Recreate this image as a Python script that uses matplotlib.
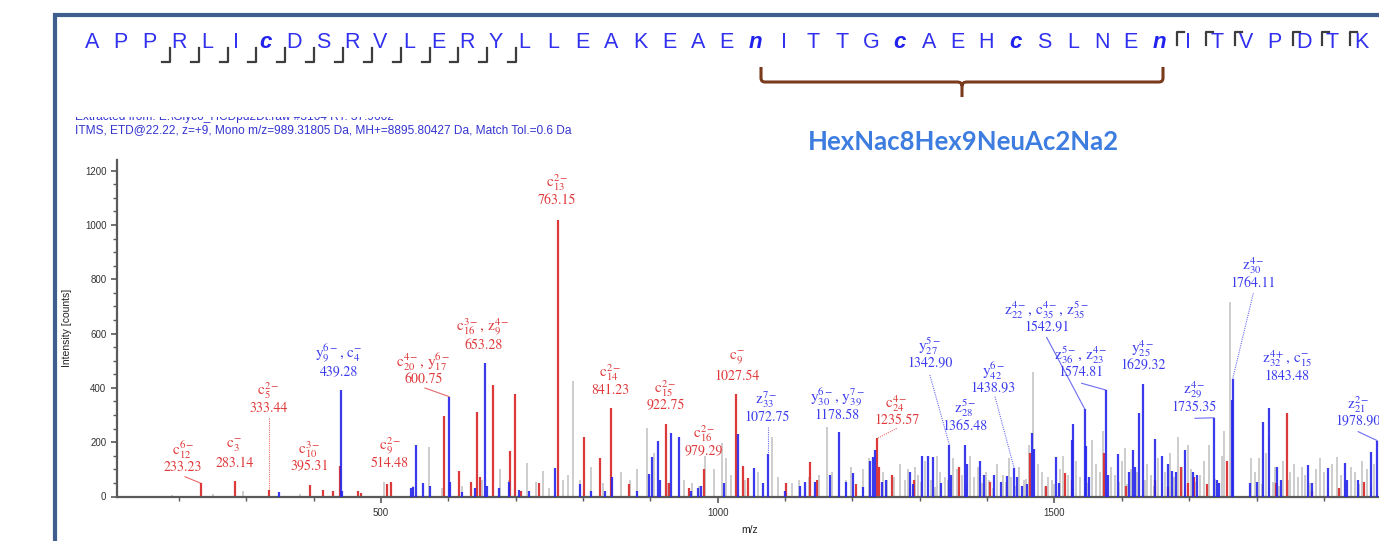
import numpy as np
import matplotlib
matplotlib.use("Agg")
import matplotlib.pyplot as plt
from matplotlib.lines import Line2D
from matplotlib.patches import PathPatch, Rectangle
from matplotlib.path import Path

plt.rcParams['mathtext.fontset'] = 'stix'
plt.rcParams['font.family'] = ['Liberation Sans', 'DejaVu Sans']

# ---- data (m/z, intensity [counts]) ----
red_mz = [233.2, 283.1, 333.4, 395.3, 414, 429, 439.3, 466, 471, 509, 514.5, 593.5,
          616, 633, 642, 647, 666, 691.5, 699, 708, 735, 763.15, 802, 825.6, 841.2,
          868, 922.75, 927, 957, 979.3, 1027.5, 1037, 1045, 1102, 1137, 1148, 1206,
          1237, 1240, 1259, 1291, 1358.7, 1404, 1463.6, 1488, 1515.6, 1526, 1573.5,
          1606, 1649, 1668, 1688, 1699, 1707, 1727, 1755.7, 1829, 1845, 1883, 1922, 1960]
red_int = [48, 57, 24, 43, 24, 20, 112, 22, 12, 46, 53, 296,
           95, 55, 310, 70, 411, 169, 376, 20, 50, 1020, 219, 142, 327,
           45, 267, 50, 30, 100, 379, 113, 68, 48, 128, 60, 45,
           214, 110, 80, 60, 110, 55, 160, 40, 88, 60, 160,
           40, 60, 35, 110, 50, 70, 45, 130, 50, 309, 20, 30, 55]

blue_mz = [348, 440, 441.5, 544, 548, 552, 563, 573, 601, 602, 620, 640, 654.4, 657,
           675, 690, 705, 720, 758, 795, 812, 832, 843, 880, 898, 902, 912, 914, 930,
           942, 960, 970, 975, 1010, 1030.5, 1054, 1067, 1074, 1100, 1122, 1129, 1145,
           1166, 1180.5, 1190, 1201, 1215, 1226, 1231, 1234, 1244, 1250, 1285.5, 1290,
           1304, 1312, 1320, 1332, 1344, 1347, 1367, 1370, 1389, 1395, 1410, 1420, 1430,
           1440, 1445, 1452, 1459, 1466, 1470, 1502, 1506, 1525.5, 1528, 1545, 1547,
           1552, 1576.5, 1580, 1594, 1610, 1617, 1620, 1626, 1631, 1649.4, 1660, 1668,
           1675, 1680, 1693.8, 1705, 1712, 1737, 1741, 1745, 1763, 1764.5, 1790, 1800,
           1810, 1819, 1830, 1836, 1877, 1882, 1906, 1931, 1935, 1950, 1970, 1979]
blue_int = [18, 392, 20, 30, 35, 190, 50, 37, 368, 55, 15, 30, 493, 40,
            30, 55, 25, 20, 106, 45, 20, 20, 72, 20, 83, 147, 204, 60, 235,
            218, 20, 30, 40, 50, 229, 104, 50, 155, 20, 38, 55, 55,
            80, 236, 55, 85, 35, 130, 147, 170, 55, 60, 90, 45,
            150, 148, 145, 50, 190, 80, 190, 120, 130, 80, 80, 55, 75,
            105, 70, 40, 45, 233, 175, 147, 50, 208, 267, 322, 185,
            70, 392, 80, 157, 90, 172, 110, 309, 414, 210, 150, 120,
            95, 90, 172, 90, 80, 290, 60, 50, 355, 432, 50, 55,
            275, 325, 110, 60, 115, 50, 105, 125, 60, 60, 163, 206]

grey_mz = [190, 250, 295, 380, 470, 505, 548, 572, 590, 620, 650, 676, 690, 717, 730,
           740, 750, 770, 778, 785.5, 795, 812, 830, 856, 870, 880, 895.5, 906, 925, 950,
           962, 972, 981, 995, 1006, 1012, 1020, 1040, 1060, 1081, 1090, 1110, 1120, 1135,
           1150, 1162, 1170, 1190, 1198, 1215, 1225, 1245, 1252, 1262, 1270, 1278, 1282,
           1293, 1298, 1308, 1316, 1326, 1330, 1338, 1350, 1356, 1362, 1374, 1380, 1386,
           1398, 1403, 1415, 1424, 1432, 1436, 1448, 1455, 1462, 1468.5, 1475, 1482, 1490,
           1496, 1508, 1512, 1520, 1532, 1538, 1556, 1562, 1568, 1572, 1584, 1590, 1600,
           1604, 1614, 1622, 1638, 1644, 1654, 1664, 1672, 1684, 1690, 1698, 1702, 1716,
           1722, 1730, 1748, 1752, 1760.6, 1792, 1798, 1804, 1814, 1818, 1828, 1840, 1850,
           1856, 1862, 1868, 1872, 1888, 1894, 1900, 1912, 1919, 1925, 1940, 1946, 1956,
           1964, 1975, 1985,
           1286, 1302, 1322, 1342, 1368, 1392, 1409, 1428, 1442, 1458, 1486, 1500, 1516,
           1528, 1550, 1578, 1596, 1608, 1634, 1648, 1660, 1678, 1694, 1708, 1726, 1738,
           1808, 1824, 1834, 1846, 1880, 1906, 1932, 1952, 1970]
grey_int = [6, 8, 20, 10, 12, 55, 40, 183, 30, 40, 60, 100, 60, 125, 55,
            95, 30, 60, 80, 427, 60, 110, 50, 90, 60, 100, 252, 160, 50, 60,
            50, 40, 150, 100, 197, 140, 80, 60, 90, 220, 70, 50, 60, 70,
            80, 257, 90, 60, 110, 100, 140, 90, 60, 70, 120, 60, 100,
            110, 80, 130, 60, 150, 90, 70, 140, 100, 80, 150, 70, 110,
            90, 60, 120, 80, 140, 70, 110, 60, 190, 460, 120, 90, 70,
            60, 100, 150, 80, 130, 70, 208, 120, 90, 240, 110, 80, 130,
            180, 100, 90, 120, 80, 140, 90, 160, 220, 110, 190, 100, 80,
            130, 190, 150, 240, 717, 140, 90, 140, 160, 220, 110, 130, 90,
            120, 70, 110, 80, 100, 140, 90, 120, 145, 80, 110, 90, 130,
            100, 120, 90,
            40, 55, 35, 60, 45, 50, 30, 55, 40, 65, 35, 45, 60,
            40, 50, 35, 55, 45, 60, 40, 50, 70, 45, 55, 40, 65,
            45, 55, 40, 60, 50, 35, 55, 45, 40]

# ---- fragment labels: name, m/z text, colour, label x, label y ----
lab_name = [r'$\mathrm{c}_{12}^{6-}$', r'$\mathrm{c}_{3}^{-}$', r'$\mathrm{c}_{5}^{2-}$',
            r'$\mathrm{c}_{10}^{3-}$', r'$\mathrm{y}_{9}^{6-}$, $\mathrm{c}_{4}^{-}$',
            r'$\mathrm{c}_{9}^{2-}$', r'$\mathrm{c}_{20}^{4-}$, $\mathrm{y}_{17}^{6-}$',
            r'$\mathrm{c}_{16}^{3-}$, $\mathrm{z}_{9}^{4-}$', r'$\mathrm{c}_{13}^{2-}$',
            r'$\mathrm{c}_{14}^{2-}$', r'$\mathrm{c}_{15}^{2-}$', r'$\mathrm{c}_{16}^{2-}$',
            r'$\mathrm{c}_{9}^{-}$', r'$\mathrm{z}_{33}^{7-}$',
            r'$\mathrm{y}_{30}^{6-}$, $\mathrm{y}_{39}^{7-}$', r'$\mathrm{c}_{24}^{4-}$',
            r'$\mathrm{y}_{27}^{5-}$', r'$\mathrm{z}_{28}^{5-}$', r'$\mathrm{y}_{42}^{6-}$',
            r'$\mathrm{z}_{22}^{4-}$, $\mathrm{c}_{35}^{4-}$, $\mathrm{z}_{35}^{5-}$',
            r'$\mathrm{z}_{36}^{5-}$, $\mathrm{z}_{23}^{4-}$', r'$\mathrm{y}_{25}^{4-}$',
            r'$\mathrm{z}_{29}^{4-}$', r'$\mathrm{z}_{30}^{4-}$',
            r'$\mathrm{z}_{32}^{4+}$, $\mathrm{c}_{15}^{-}$', r'$\mathrm{z}_{21}^{2-}$']
lab_val = ['233.23', '283.14', '333.44', '395.31', '439.28', '514.48', '600.75', '653.28',
           '763.15', '841.23', '922.75', '979.29', '1027.54', '1072.75', '1178.58',
           '1235.57', '1342.90', '1365.48', '1438.93', '1542.91', '1574.81', '1629.32',
           '1735.35', '1764.11', '1843.48', '1978.90']
lab_col = ['r', 'r', 'r', 'r', 'b', 'r', 'r', 'r', 'r', 'r', 'r', 'r', 'r', 'b', 'b',
           'r', 'b', 'b', 'b', 'b', 'b', 'b', 'b', 'b', 'b', 'b']
lab_x = [206, 282.2, 332.7, 393.5, 438.1, 513.4, 562.8, 651.9, 761.3, 840, 922.7, 979.6,
         1028.1, 1072.7, 1177.5, 1265.7, 1315.2, 1367.1, 1409.1, 1488.4, 1538.9, 1631,
         1707.6, 1795.2, 1845.7, 1951.1]
lab_y = [108.6, 122.3, 324.8, 109.8, 459.6, 122.3, 431.6, 558, 1092, 392.2, 333.3, 168.7,
         443.8, 291.7, 300.2, 279.2, 490.6, 259.7, 398.5, 623.2, 456, 480.6, 328.5,
         785.2, 443.8, 275.5]

# leader lines: start (near label) -> end (peak top), colour, dotted?
lead_x0 = [209, 333.4, 565.3, 1074, 1265.7, 1315, 1411.7, 1488.4, 1540.4, 1708.6, 1795.2, 1951]
lead_y0 = [72.9, 289, 399.6, 255, 251, 447.5, 367.6, 586, 417, 288, 748.4, 238.7]
lead_x1 = [233.2, 333.4, 601, 1074, 1237, 1344, 1440, 1545, 1576.5, 1737, 1764.5, 1979]
lead_y1 = [48, 24, 368, 155, 214, 190, 105, 322, 392, 290, 432, 206]
lead_col = ['r', 'r', 'r', 'b', 'r', 'b', 'b', 'b', 'b', 'b', 'b', 'b']
lead_dot = [False, True, False, True, True, True, True, False, False, False, True, False]

sequence = "APPRLIcDSRVLERYLLEAKEAEnITTGcAEHcSLNEnITVPDTK"
c_breaks = [2, 3, 4, 5, 6, 7, 8, 9, 10, 11, 12, 13, 14]   # mark after residue index
z_breaks = [38, 39, 40, 42, 43, 44]                       # mark before residue index

RED = '#DC3A3A'
BLUE = '#2525EC'
GREY = '#C9C9C9'
LRED = '#E0393B'
LBLUE = '#3B3BEE'
cmap = {'r': LRED, 'b': LBLUE}

W, H = 1379, 541
fig = plt.figure(figsize=(W / 100, H / 100), dpi=100)


def fx(px):
    return px / W


def fy(py):
    return 1 - py / H


# axes placed so the m/z scale matches the screenshot (clipped at the right)
x_lo, x_hi = 108.8, 2020
ppu = 0.6735
ax_left = 117.5
ax_w = (x_hi - x_lo) * ppu
ax_bottom = 496.5
y_hi = 1240
ax_h = y_hi * 0.2715
ax = fig.add_axes([fx(ax_left), fy(ax_bottom), ax_w / W, ax_h / H])
ax.set_xlim(x_lo, x_hi)
ax.set_ylim(0, y_hi)

ax.vlines(grey_mz, 0, grey_int, colors=GREY, lw=1.3, zorder=1)
ax.vlines(red_mz, 0, red_int, colors=RED, lw=1.6, zorder=2)
ax.vlines(blue_mz, 0, blue_int, colors=BLUE, lw=1.6, alpha=0.9, zorder=3)

for s in ['top', 'right']:
    ax.spines[s].set_visible(False)
for s in ['left', 'bottom']:
    ax.spines[s].set_color('#5a5a5a')
    ax.spines[s].set_linewidth(1.6)
ax.set_yticks(np.arange(0, 1201, 200))
ax.set_yticks(np.arange(0, 1201, 50), minor=True)
ax.set_xticks([500, 1000, 1500])
ax.set_xticks(np.arange(200, 2001, 100), minor=True)
ax.tick_params(axis='both', which='major', length=4, width=1.2, color='#5a5a5a',
               labelsize=7, labelcolor='#333333', pad=4)
ax.tick_params(axis='both', which='minor', length=3, width=1.0, color='#5a5a5a')
ax.set_ylabel('Intensity [counts]', fontsize=7.5, color='#222222')
ax.yaxis.set_label_coords(-(ax_left - 72) / ax_w, 0.5)
ax.set_xlabel('m/z', fontsize=7.5, color='#222222')
ax.xaxis.set_label_coords((750 - ax_left) / ax_w, -(525 - ax_bottom) / ax_h)

# fragment labels
for name, val, c, x, y in zip(lab_name, lab_val, lab_col, lab_x, lab_y):
    ax.text(x, y, val, color=cmap[c], fontsize=10, family='STIXGeneral',
            ha='center', va='center', zorder=5, clip_on=False)
    ax.annotate(name, (x, y), xytext=(0, 12.5), textcoords='offset points',
                color=cmap[c], fontsize=11, family='STIXGeneral',
                ha='center', va='center', zorder=5)

for x0, y0, x1, y1, c, d in zip(lead_x0, lead_y0, lead_x1, lead_y1, lead_col, lead_dot):
    ax.plot([x0, x1], [y0, y1], color=cmap[c], lw=0.8, alpha=0.75,
            ls=(0, (1, 1)) if d else '-', zorder=4)

# header: acquisition info
fig.text(fx(75), fy(117), r'Extracted from: E:\Glyco_HCDpd2Dt.raw #3164 RT: 37.9602',
         fontsize=8.6, color='#3535D0', va='center')
fig.add_artist(Rectangle((fx(60), fy(117)), fx(700), 0.03, transform=fig.transFigure,
                         facecolor='white', edgecolor='none', zorder=10))
fig.text(fx(75), fy(130), 'ITMS, ETD@22.22, z=+9, Mono m/z=989.31805 Da, '
         'MH+=8895.80427 Da, Match Tol.=0.6 Da', fontsize=8.6, color='#3535D0', va='center')

# glycan composition
fig.text(fx(963), fy(142), 'HexNac8Hex9NeuAc2Na2', fontsize=18.5, fontweight='bold',
         family='Lato', color='#3D7DE0', ha='center', va='center')

# peptide sequence with fragment marks
x0, sp = 92, 28.85
for i, aa in enumerate(sequence):
    xs = x0 + i * sp
    if aa.islower():
        fig.text(fx(xs), fy(43), aa, fontsize=16, fontweight='bold', style='italic',
                 color='#2222EE', ha='center', va='center')
    else:
        fig.text(fx(xs), fy(42), aa, fontsize=15.5, color='#3030EE', ha='center',
                 va='center')
MARK = '#3d3d3d'
for i in c_breaks:
    xv = x0 + i * sp + 0.7 * sp
    fig.add_artist(Line2D([fx(xv - 8), fx(xv), fx(xv)], [fy(62), fy(62), fy(48)],
                          color=MARK, lw=1.6, transform=fig.transFigure))
for j in z_breaks:
    xv = x0 + j * sp - 11
    fig.add_artist(Line2D([fx(xv), fx(xv), fx(xv + 7)], [fy(45), fy(32), fy(32)],
                          color=MARK, lw=1.6, transform=fig.transFigure))

# brace under the glycosylated stretch
pts = [(761, 67), (761, 78), (761, 82), (765, 82), (957, 82), (962, 82), (962, 86),
       (962, 97), (962, 86), (962, 82), (967, 82), (1159, 82), (1163, 82), (1163, 78),
       (1163, 67)]
codes = [Path.MOVETO, Path.LINETO, Path.CURVE3, Path.CURVE3, Path.LINETO, Path.CURVE3,
         Path.CURVE3, Path.LINETO, Path.MOVETO, Path.CURVE3, Path.CURVE3, Path.LINETO,
         Path.CURVE3, Path.CURVE3, Path.LINETO]
brace = Path([(fx(a), fy(b)) for a, b in pts], codes)
fig.add_artist(PathPatch(brace, fill=False, edgecolor='#7A3A1C', lw=2.2,
                         transform=fig.transFigure))

# slide frame
FRAME = '#3E5E8E'
fig.add_artist(Line2D([fx(55), fx(55), 1.0], [0, fy(15), fy(15)], color=FRAME, lw=3,
                      transform=fig.transFigure, solid_joinstyle='miter'))

fig.savefig('out.png', dpi=100)
